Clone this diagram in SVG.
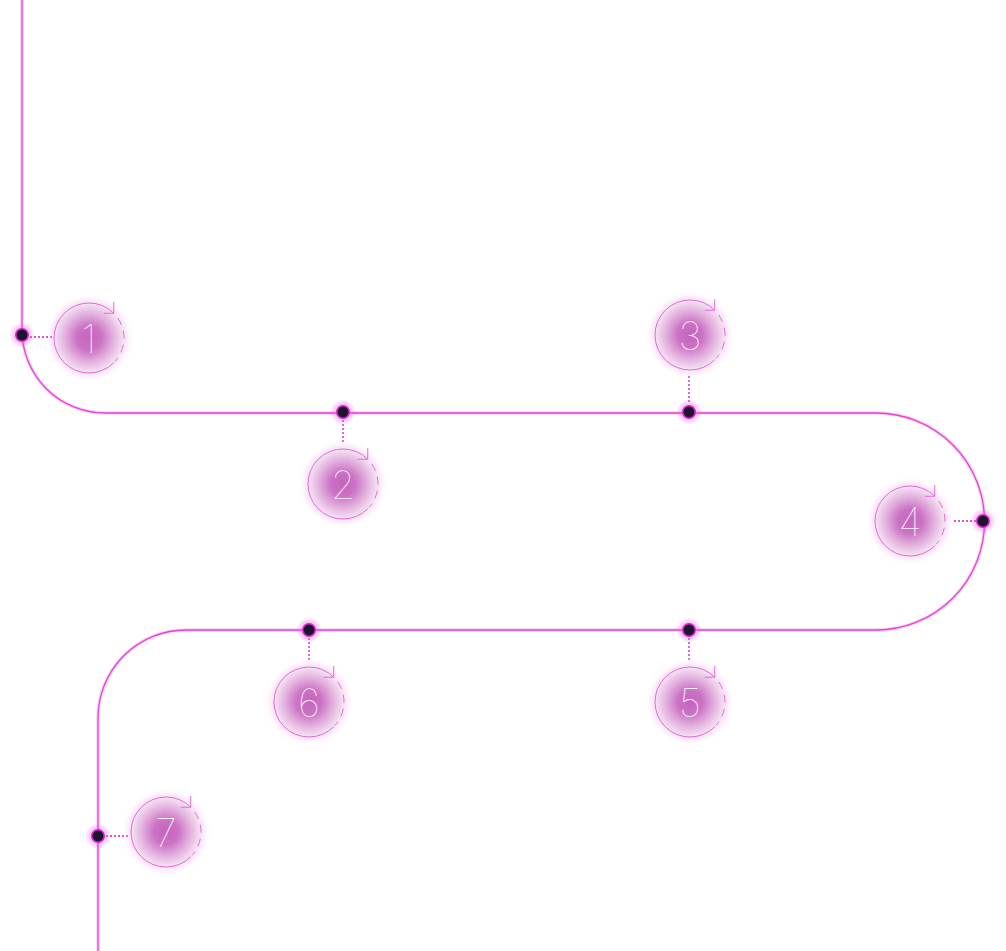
<svg xmlns="http://www.w3.org/2000/svg" xmlns:xlink="http://www.w3.org/1999/xlink" width="1006" height="951" viewBox="0 0 1006 951">
<defs>
<style>
.track{fill:none;stroke:#e640d8;stroke-width:1.3}
.trackglow{fill:none;stroke:#f39be9;stroke-width:3.5;opacity:0.45}
.tick{fill:none;stroke:#c81cbc;stroke-width:1.3;stroke-dasharray:2 2}
.dot{fill:#1b1530;stroke:#d526c8;stroke-width:1.5}
.ring{fill:none;stroke:#e26ad8;stroke-width:1}
.num{font-family:Inter,"Liberation Sans",sans-serif;font-weight:100;font-size:39px;fill:#fbeffa;text-anchor:middle}
</style>
<radialGradient id="bfill" cx="0.5" cy="0.5" r="0.5">
<stop offset="0" stop-color="#c564bd"/>
<stop offset="0.35" stop-color="#cb72c4"/>
<stop offset="0.7" stop-color="#e3b2de"/>
<stop offset="1" stop-color="#f6e4f4"/>
</radialGradient>
<radialGradient id="dglow" cx="0.5" cy="0.5" r="0.5">
<stop offset="0.4" stop-color="#f25ee6" stop-opacity="0.55"/>
<stop offset="1" stop-color="#f25ee6" stop-opacity="0"/>
</radialGradient>
<filter id="soft" x="-50%" y="-50%" width="200%" height="200%">
<feGaussianBlur stdDeviation="3"/>
</filter>
<g id="badge">
<circle r="38" fill="#f3bfee" opacity="0.6" filter="url(#soft)"/>
<circle r="35" fill="url(#bfill)"/>
<path class="ring" d="M24.75,24.75 A35,35 0 1 1 24.75,-24.75"/>
<path class="ring" d="M28.67,-20.08 A35,35 0 0 1 26,23.4" stroke-dasharray="8 6"/>
<path class="ring" d="M14.75,-24.75 H24.75 V-36"/>
</g>
<g id="pin">
<circle r="13" fill="url(#dglow)"/>
<circle r="6.2" class="dot"/>
</g>
</defs>
<rect width="1006" height="951" fill="#ffffff"/>
<g id="connectors">
<path class="trackglow" d="M22,0 V330 A83,83 0 0 0 105,413 H876 A108.5,108.5 0 0 1 876,630 H186 A88,88 0 0 0 98,718 V951"/>
<path class="track" d="M22,0 V330 A83,83 0 0 0 105,413 H876 A108.5,108.5 0 0 1 876,630 H186 A88,88 0 0 0 98,718 V951"/>
<path class="tick" d="M30,337 H52"/>
<path class="tick" d="M343,420 V444"/>
<path class="tick" d="M689,376 V404"/>
<path class="tick" d="M954,521 H976"/>
<path class="tick" d="M689,638 V662"/>
<path class="tick" d="M309,638 V661"/>
<path class="tick" d="M106,836 H128"/>
</g>
<g id="node1"><use xlink:href="#pin" x="22" y="335"/><use xlink:href="#badge" x="89" y="338"/><text class="num" x="89" y="353">1</text></g>
<g id="node2"><use xlink:href="#pin" x="343" y="412"/><use xlink:href="#badge" x="343" y="484"/><text class="num" x="343" y="499">2</text></g>
<g id="node3"><use xlink:href="#pin" x="689" y="412"/><use xlink:href="#badge" x="690" y="335"/><text class="num" x="690" y="350">3</text></g>
<g id="node4"><use xlink:href="#pin" x="983" y="521"/><use xlink:href="#badge" x="910" y="521"/><text class="num" x="910" y="536">4</text></g>
<g id="node5"><use xlink:href="#pin" x="689" y="630"/><use xlink:href="#badge" x="690" y="702"/><text class="num" x="690" y="717">5</text></g>
<g id="node6"><use xlink:href="#pin" x="309" y="630"/><use xlink:href="#badge" x="309" y="702"/><text class="num" x="309" y="717">6</text></g>
<g id="node7"><use xlink:href="#pin" x="98" y="836"/><use xlink:href="#badge" x="166" y="832"/><text class="num" x="166" y="847">7</text></g>
</svg>
